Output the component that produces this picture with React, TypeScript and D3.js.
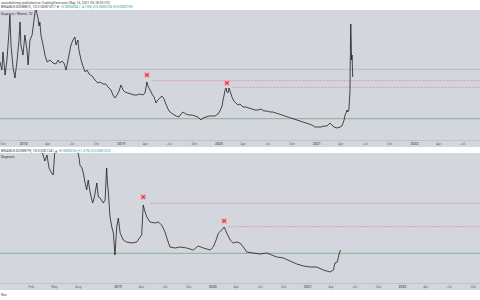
import React from "react";
import * as d3 from "d3";

// ---------- DATA ----------
// top panel: DOGE/BTC daily closes (day offsets from TOP_START, value units)
const TOP_START = "2017-10-05";
const TOP_END_DAYS = 1794;
const TOP_DAYS = [0, 7, 11, 19, 26, 34, 37, 41, 49, 56, 64, 71, 75, 78, 86, 93, 101, 105, 112, 120, 127, 131, 134, 138, 142, 146, 149, 153, 161, 168, 176, 187, 198, 209, 217, 224, 232, 239, 247, 250, 258, 265, 273, 280, 284, 291, 295, 303, 310, 318, 325, 333, 344, 355, 366, 374, 385, 396, 407, 415, 422, 430, 437, 445, 452, 460, 467, 478, 490, 501, 512, 523, 534, 542, 549, 553, 561, 568, 576, 583, 590, 598, 605, 613, 620, 628, 635, 646, 658, 669, 676, 684, 695, 706, 718, 729, 740, 751, 759, 770, 781, 792, 803, 815, 822, 830, 833, 837, 841, 845, 848, 852, 856, 860, 867, 874, 882, 889, 897, 908, 919, 930, 942, 953, 964, 975, 987, 998, 1009, 1020, 1031, 1043, 1054, 1065, 1076, 1087, 1099, 1110, 1121, 1132, 1144, 1155, 1166, 1177, 1188, 1200, 1211, 1222, 1233, 1241, 1248, 1259, 1271, 1278, 1286, 1289, 1297, 1300, 1304, 1308, 1310, 1311, 1313, 1314, 1316, 1318];
const TOP_VALUES = [78, 70, 88, 65, 80, 110, 125, 95, 72, 62, 80, 100, 118, 95, 85, 105, 90, 75, 100, 105, 120, 128, 134, 126, 122, 114, 118, 105, 95, 85, 78, 80, 77, 76, 80, 77, 79, 77, 70, 74, 85, 95, 100, 103, 95, 100, 90, 80, 74, 68, 70, 66, 64, 60, 57, 58, 56, 56, 52, 50, 45, 42, 45, 49, 55, 50, 48, 47, 46, 45, 45, 46, 45, 47, 58, 54, 50, 46, 43, 37, 40, 42, 44, 41, 36, 31, 28, 26, 24, 23, 26, 28, 26, 25, 25, 24, 23, 20, 22, 23, 24, 24, 24, 26, 29, 34, 39, 44, 50, 52, 48, 47, 52, 49, 43, 39, 37, 35, 36, 33, 33, 32, 31, 30, 30, 31, 29, 29, 28, 28, 27, 26, 25, 24, 23, 22, 21, 20, 19, 18, 17, 16, 15, 13, 13, 13, 14, 14, 17, 15, 13, 12, 13, 14, 20, 24, 30, 28, 30, 48, 100, 116, 95, 80, 85, 63];

// bottom panel: daily closes (day offsets from BOTTOM_START)
const BOTTOM_START = "2017-10-03";
const BOTTOM_END_DAYS = 1850;
const BOTTOM_DAYS = [116, 146, 166, 173, 181, 189, 193, 199, 205, 209, 212, 224, 251, 278, 297, 305, 308, 316, 321, 328, 334, 340, 347, 357, 364, 373, 379, 386, 398, 405, 411, 414, 417, 424, 431, 437, 443, 450, 456, 463, 475, 488, 508, 527, 540, 546, 552, 559, 566, 578, 598, 610, 623, 636, 643, 655, 675, 694, 720, 745, 764, 784, 810, 822, 833, 842, 855, 864, 874, 887, 899, 912, 925, 938, 951, 976, 1002, 1028, 1047, 1067, 1092, 1118, 1144, 1169, 1195, 1221, 1246, 1272, 1285, 1291, 1300, 1308, 1313];
const BOTTOM_VALUES = [160, 145, 128, 122, 128, 115, 113, 110, 108, 123, 135, 150, 160, 150, 135, 125, 118, 115, 110, 100, 93, 103, 91, 80, 86, 100, 86, 85, 80, 83, 115, 100, 93, 66, 56, 50, 28, 56, 65, 50, 43, 41, 40, 41, 46, 48, 78, 71, 66, 61, 60, 61, 58, 51, 45, 36, 35, 36, 35, 33, 37, 35, 33, 36, 43, 50, 53, 56, 50, 43, 40, 41, 40, 36, 31, 30, 29, 30, 28, 26, 25, 22, 19, 17, 16, 16, 13, 11, 13, 20, 21, 30, 33];

// levels
const TOP_SUPPORT = 21.3;
const TOP_BLUE = 70.7;
const TOP_RES_DAYS = [567, 866];
const TOP_RES_VALUES = [59.3, 52.7];
const TOP_MARK_DAYS = [549, 848];
const TOP_MARK_VALUES = [65, 57];

const BOTTOM_SUPPORT = 29.7;
const BOTTOM_RES_DAYS = [578, 879];
const BOTTOM_RES_VALUES = [79.7, 56.3];
const BOTTOM_MARK_DAYS = [552, 864];
const BOTTOM_MARK_VALUES = [86, 62];

// axis ticks
const TOP_TICKS = ["2017-10-01", "2018-01-01", "2018-04-01", "2018-07-01", "2018-10-01", "2019-01-01", "2019-04-01", "2019-07-01", "2019-10-01", "2020-01-01", "2020-04-01", "2020-07-01", "2020-10-01", "2021-01-01", "2021-04-01", "2021-07-01", "2021-10-01", "2022-01-01", "2022-04-01", "2022-07-01"];
const BOTTOM_TICKS = ["2018-02-01", "2018-05-01", "2018-08-01", "2019-01-01", "2019-04-01", "2019-07-01", "2019-10-01", "2020-01-01", "2020-04-01", "2020-07-01", "2020-10-01", "2021-01-01", "2021-04-01", "2021-07-01", "2021-10-01", "2022-01-01", "2022-04-01", "2022-07-01", "2022-10-01"];

const HEADER_1 = "soundshrimp published on TradingView.com, May 16, 2021 05:18:35 UTC";
const HEADER_2A = "BINANCE:DOGEBTC, 1D 0.00001017";
const HEADER_2B = "▼ −0.0000004 (−4.15%) O:0.0000106 H:0.0000109";
const TOP_LABEL = "Dogecoin / Bitcoin, 1D";
const HEADER_3A = "BINANCE:DOGEETH, 1D 0.0001241";
const HEADER_3B = "▲ +0.0000016 (+1.31%) O:0.0001225";
const BOTTOM_LABEL = "Dogecoin";
const FOOTER = "Nov";

// ---------- CHART ----------
const W = 480;
const H = 300;
const BG = "#d4d6dd";
const FONT = "Roboto, 'DejaVu Sans', sans-serif";

const parse = d3.timeParse("%Y-%m-%d");
const fmtTick = (d: Date) => (d.getMonth() === 0 ? d3.timeFormat("%Y")(d) : d3.timeFormat("%b")(d));

function Marker({ x, y }: { x: number; y: number }) {
  const s = 1.7;
  return (
    <g>
      <rect x={x - 2.8} y={y - 2.8} width={5.6} height={5.6} fill="#eeb3b6" rx={0.5} />
      <path d={`M${x - s},${y - s}L${x + s},${y + s}M${x + s},${y - s}L${x - s},${y + s}`} stroke="#e0323c" strokeWidth={1.2} />
    </g>
  );
}

type PanelProps = {
  id: string;
  top: number;
  bottom: number;
  axisY: number;
  start: string;
  endDays: number;
  days: number[];
  values: number[];
  support: number;
  blue?: number;
  resDays: number[];
  resValues: number[];
  markDays: number[];
  markValues: number[];
  ticks: string[];
  label: string;
};

function Panel(p: PanelProps) {
  const start = parse(p.start)!;
  const x = d3.scaleTime().domain([start, d3.timeDay.offset(start, p.endDays)]).range([0, W]);
  const y = d3.scaleLinear().domain([0, 130]).range([p.bottom, p.top]);
  const pts = p.days.map((d, i) => [x(d3.timeDay.offset(start, d)), y(p.values[i])] as [number, number]);
  const line = d3.line<[number, number]>().x((d) => d[0]).y((d) => d[1]);
  return (
    <g>
      <defs>
        <clipPath id={p.id}>
          <rect x={0} y={p.top} width={W} height={p.bottom - p.top} />
        </clipPath>
      </defs>
      <rect x={0} y={p.top} width={W} height={p.axisY + 7 - p.top} fill={BG} />
      <line x1={0} x2={W} y1={p.axisY + 0.5} y2={p.axisY + 0.5} stroke="#b9bcc4" strokeWidth={0.8} />
      <g clipPath={`url(#${p.id})`}>
        {p.blue !== undefined && (
          <line x1={0} x2={W} y1={y(p.blue)} y2={y(p.blue)} stroke="#a9b8cc" strokeWidth={0.8} />
        )}
        <line x1={0} x2={W} y1={y(p.support)} y2={y(p.support)} stroke="#7fae86" strokeWidth={0.9} />
        {p.resDays.map((d, i) => (
          <line key={i} x1={x(d3.timeDay.offset(start, d))} x2={W} y1={y(p.resValues[i])} y2={y(p.resValues[i])}
            stroke="#d98c92" strokeWidth={0.7} strokeDasharray="2,1" />
        ))}
        <path d={line(pts) || ""} fill="none" stroke="#141414" strokeWidth={0.75} strokeLinejoin="round" />
        {p.markDays.map((d, i) => (
          <Marker key={i} x={x(d3.timeDay.offset(start, d))} y={y(p.markValues[i])} />
        ))}
      </g>
      <text x={1} y={p.top + 4.5} fontSize={3.2} fill="#333" fontFamily={FONT}>{p.label}</text>
      {p.ticks.map((t) => {
        const dt = parse(t)!;
        const xx = Math.max(3, x(dt));
        return (
          <text key={t} x={xx} y={p.axisY + 4.5} fontSize={3.4} fill="#6a6d75" textAnchor="middle" fontFamily={FONT}
            fontWeight={dt.getMonth() === 0 ? 700 : 400}>
            {fmtTick(dt)}
          </text>
        );
      })}
    </g>
  );
}

export default function App() {
  return (
    <div style={{ position: "fixed", left: 0, top: 0, width: W, height: H, background: "#fff" }}>
      <svg width={W} height={H} viewBox={`0 0 ${W} ${H}`} style={{ display: "block" }}>
        <rect x={0} y={0} width={W} height={H} fill="#ffffff" />
        <text x={1} y={3.5} fontSize={3.4} fill="#444" fontFamily={FONT}>{HEADER_1}</text>
        <text x={1} y={7.5} fontSize={3.4} fill="#444" fontFamily={FONT}>
          {HEADER_2A} <tspan fill="#2a9d8f">{HEADER_2B}</tspan>
        </text>
        <Panel id="clipTop" top={10} bottom={140} axisY={140} start={TOP_START} endDays={TOP_END_DAYS}
          days={TOP_DAYS} values={TOP_VALUES} support={TOP_SUPPORT} blue={TOP_BLUE}
          resDays={TOP_RES_DAYS} resValues={TOP_RES_VALUES} markDays={TOP_MARK_DAYS} markValues={TOP_MARK_VALUES}
          ticks={TOP_TICKS} label={TOP_LABEL} />
        <text x={1} y={151.5} fontSize={3.4} fill="#444" fontFamily={FONT}>
          {HEADER_3A} <tspan fill="#2a9d8f">{HEADER_3B}</tspan>
        </text>
        <Panel id="clipBottom" top={153} bottom={283} axisY={283} start={BOTTOM_START} endDays={BOTTOM_END_DAYS}
          days={BOTTOM_DAYS} values={BOTTOM_VALUES} support={BOTTOM_SUPPORT}
          resDays={BOTTOM_RES_DAYS} resValues={BOTTOM_RES_VALUES} markDays={BOTTOM_MARK_DAYS} markValues={BOTTOM_MARK_VALUES}
          ticks={BOTTOM_TICKS} label={BOTTOM_LABEL} />
        <text x={1} y={296} fontSize={3.4} fill="#444" fontFamily={FONT}>{FOOTER}</text>
      </svg>
    </div>
  );
}
